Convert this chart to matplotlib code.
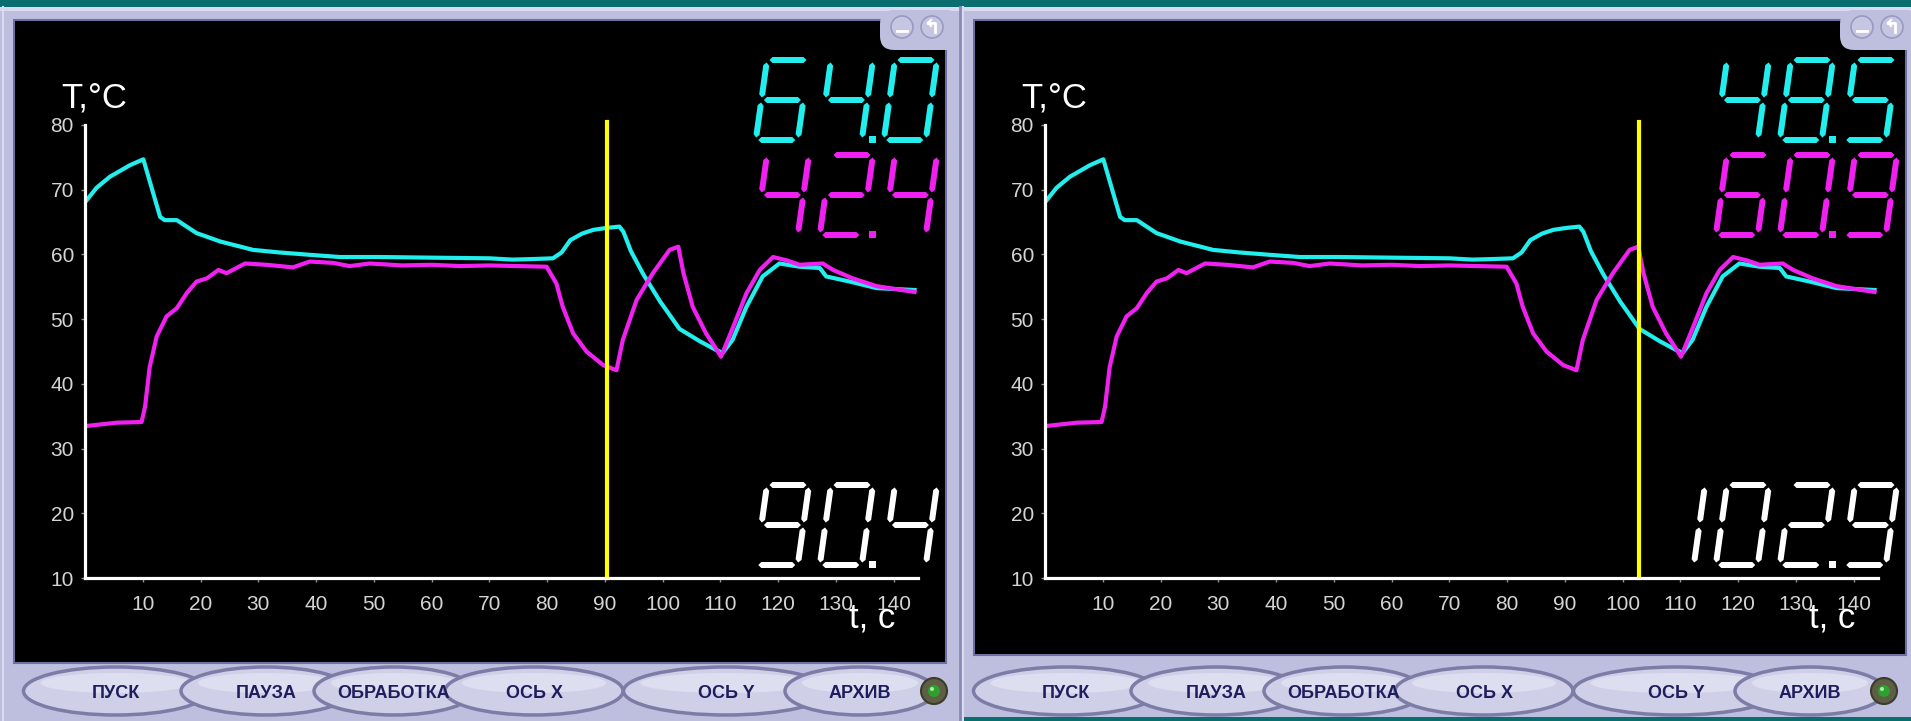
import matplotlib.pyplot as plt
from matplotlib.patches import Rectangle, Ellipse, Circle, FancyBboxPatch, Polygon
import numpy as np

# кривые температур (одни и те же в обоих окнах), t в секундах, T в градусах
cyan_t = [0.3, 2.0, 4.3, 7.8, 10.1, 13.0, 13.8, 15.9, 19.3, 23.4, 29.1, 33.7, 39.5, 44.1,
          51.0, 60.0, 70.0, 74.0, 78.0, 81.0, 82.5, 84.0, 86.0, 88.0, 90.3, 92.5, 93.2,
          94.5, 96.6, 99.5, 102.9, 106.4, 109.3, 110.4, 112.1, 114.5, 117.3, 120.2,
          123.7, 127.2, 128.3, 132.4, 137.0, 143.6]
cyan_T = [68.4, 70.3, 72.0, 73.8, 74.7, 65.8, 65.3, 65.3, 63.3, 62.0, 60.7, 60.3, 59.9, 59.6,
          59.6, 59.5, 59.4, 59.2, 59.3, 59.4, 60.3, 62.2, 63.2, 63.8, 64.1, 64.3, 63.5,
          60.5, 57.0, 52.8, 48.5, 46.6, 45.2, 44.8, 46.8, 51.9, 56.6, 58.6,
          58.1, 57.9, 56.6, 55.8, 54.8, 54.5]

magenta_t = [0.3, 5.5, 9.8, 10.4, 11.2, 12.4, 14.1, 15.9, 17.6, 19.3, 21.1, 23.1, 24.5, 27.7,
             31.4, 36.0, 38.9, 42.9, 45.8, 49.3, 55.0, 60.0, 65.0, 70.0, 75.0, 79.9, 81.6,
             82.7, 84.5, 86.8, 89.7, 92.0, 93.1, 95.5, 98.3, 101.2, 102.7, 103.6, 105.2,
             107.5, 109.9, 110.1, 112.2, 114.5, 116.8, 119.1, 121.4, 123.7, 127.7, 129.5,
             132.9, 137.0, 143.6]
magenta_T = [33.5, 34.0, 34.1, 36.5, 42.6, 47.3, 50.4, 51.7, 54.0, 55.8, 56.3, 57.6, 57.1, 58.6,
             58.4, 58.0, 58.9, 58.7, 58.2, 58.6, 58.3, 58.4, 58.2, 58.3, 58.2, 58.1, 55.5,
             51.9, 47.8, 45.0, 42.9, 42.1, 46.8, 53.0, 57.1, 60.7, 61.2, 57.1, 51.9,
             47.8, 44.5, 44.2, 48.8, 54.0, 57.6, 59.6, 59.1, 58.4, 58.6, 57.6,
             56.3, 55.1, 54.2]

x_ticks = [10, 20, 30, 40, 50, 60, 70, 80, 90, 100, 110, 120, 130, 140]
y_ticks = [10, 20, 30, 40, 50, 60, 70, 80]

# положение курсора и показания индикаторов в каждом окне
cursor_t = [90.4, 102.9]
cyan_read = ["64.0", "48.5"]
magenta_read = ["42.4", "60.9"]
time_read = ["90.4", "102.9"]

buttons = ["ПУСК", "ПАУЗА", "ОБРАБОТКА", "ОСЬ X", "ОСЬ Y", "АРХИВ"]

# цвета
LAV = "#BEBEDE"
LAV_DARK = "#8A8AB4"
LAV_LIGHT = "#DADAF0"
TEAL = "#0A6E6E"
CYAN = "#22EEEE"
MAGENTA = "#F020F0"
YELLOW = "#FFFF00"

W_FIG, H_FIG = 1911, 721

fig = plt.figure(figsize=(W_FIG / 100, H_FIG / 100), dpi=100, facecolor=LAV)

ui = fig.add_axes([0, 0, 1, 1], zorder=0)
ui.set_xlim(0, W_FIG)
ui.set_ylim(H_FIG, 0)
ui.axis("off")

top = fig.add_axes([0, 0, 1, 1], zorder=5)
top.set_xlim(0, W_FIG)
top.set_ylim(H_FIG, 0)
top.axis("off")
top.patch.set_alpha(0)

# --- семисегментный индикатор ---
SEG = {"a": ((0, 1), (1, 1)), "b": ((1, 1), (1, .5)), "c": ((1, .5), (1, 0)),
       "d": ((0, 0), (1, 0)), "e": ((0, .5), (0, 0)), "f": ((0, 1), (0, .5)),
       "g": ((0, .5), (1, .5))}
DIGITS = {"0": "abcdef", "1": "bc", "2": "abged", "3": "abgcd", "4": "fgbc",
          "5": "afgcd", "6": "afgedc", "7": "abc", "8": "abcdefg", "9": "abcdfg"}


def seg_poly(p0, p1, th, gap):
    p0, p1 = np.array(p0, float), np.array(p1, float)
    d = (p1 - p0) / np.linalg.norm(p1 - p0)
    n = np.array([-d[1], d[0]])
    a = p0 + d * gap
    b = p1 - d * gap
    h = th / 2
    return [a, a + d * h + n * h, b - d * h + n * h, b, b - d * h - n * h, a + d * h - n * h]


def seven_seg(ax, text, x_right, y_bottom, color, W=42, H=80, pitch=64, slant=0.14, th=6):
    digits = text.replace(".", "")
    n = len(digits)
    dot_after = text.index(".") - 1 if "." in text else None
    yb = y_bottom - th / 2
    for k, ch in enumerate(digits):
        x0 = x_right - (n - 1 - k) * pitch - W - slant * H - th / 2
        for s in DIGITS[ch]:
            (u0, v0), (u1, v1) = SEG[s]
            p0 = (x0 + u0 * W + slant * v0 * H, yb - v0 * H)
            p1 = (x0 + u1 * W + slant * v1 * H, yb - v1 * H)
            ax.add_patch(Polygon(seg_poly(p0, p1, th, 2.5), closed=True, color=color, lw=0))
        if k == dot_after:
            dx = x0 + W + (pitch - W) / 2
            ax.add_patch(Rectangle((dx - 3.5, y_bottom - 7), 7, 7, color=color, lw=0))


# --- рамки окон ---
ui.add_patch(Rectangle((0, 0), W_FIG, 7, color=TEAL, lw=0))
ui.add_patch(Rectangle((962, 717), W_FIG - 962, 4, color=TEAL, lw=0))
ui.add_patch(Rectangle((0, 7), W_FIG, 4, color=LAV_LIGHT, lw=0))
ui.plot([960, 960], [7, 721], color=LAV_DARK, lw=2)
ui.plot([963, 963], [7, 721], color=LAV_LIGHT, lw=1.5)
ui.plot([3, 3], [7, 721], color=LAV_LIGHT, lw=1.5)

panels = [(14, 20, 932, 643), (974, 20, 932, 635)]
for (bx, by, bw, bh) in panels:
    ui.add_patch(Rectangle((bx, by), bw, bh, facecolor="black", edgecolor="#7070A0", lw=1.5))
    # выступ с кнопками окна
    ui.add_patch(FancyBboxPatch((bx + 866, by - 10), 80, 40,
                                boxstyle="round,pad=0,rounding_size=14",
                                facecolor=LAV, edgecolor="none"))
    for cx, kind in [(bx + 888, "min"), (bx + 918, "back")]:
        ui.add_patch(Circle((cx, 27), 11, facecolor="#C6C6E2", edgecolor="#9A9AC0", lw=1.2))
        if kind == "min":
            ui.plot([cx - 5, cx + 5], [31, 31], color="white", lw=2)
        else:
            ui.plot([cx - 4, cx + 3, cx + 3], [23, 23, 32], color="white", lw=2)
            ui.plot([cx - 4, cx - 1], [23, 20], color="white", lw=1.5)
            ui.plot([cx - 4, cx - 1], [23, 26], color="white", lw=1.5)

# --- кнопки ---
btn_x = [116, 266, 394, 534, 726, 860]
btn_w = [185, 170, 160, 178, 205, 150]
for shift in [0, 950]:
    for name, cx, bw in zip(buttons, btn_x, btn_w):
        cx = cx + shift
        ui.add_patch(Ellipse((cx, 691), bw, 48, facecolor="#CFCFE8", edgecolor="#7C7CA6", lw=2.5))
        ui.add_patch(Ellipse((cx, 683), bw - 34, 20, facecolor="#E2E2F4", edgecolor="none", alpha=0.8))
        ui.text(cx, 693, name, ha="center", va="center", fontsize=13, fontweight="bold",
                color="#1E1E5E", family="Liberation Sans")
    ui.add_patch(Circle((934 + shift, 691), 13, facecolor="#5E5E44", edgecolor="#3C3C2C", lw=1.5))
    ui.add_patch(Circle((934 + shift, 691), 6, facecolor="#2FA02F", edgecolor="none"))
    ui.add_patch(Circle((932 + shift, 689), 2, facecolor="#A0F0A0", edgecolor="none"))

# --- графики ---
X0, X1, Y0, Y1 = 85, 918, 125, 578
scale_t = 5.777
for i in range(2):
    sx = i * 960
    ax = fig.add_axes([(X0 + sx) / W_FIG, 1 - Y1 / H_FIG, (X1 - X0) / W_FIG, (Y1 - Y0) / H_FIG],
                      zorder=2)
    ax.patch.set_alpha(0)
    ax.set_xlim(0, (X1 - X0) / scale_t)
    ax.set_ylim(10, 80)
    ax.plot(cyan_t, cyan_T, color=CYAN, lw=3)
    ax.plot(magenta_t, magenta_T, color=MAGENTA, lw=3)
    ax.plot([cursor_t[i], cursor_t[i]], [10, 80.4], color=YELLOW, lw=3, clip_on=False)

    for side in ["top", "right"]:
        ax.spines[side].set_visible(False)
    for side in ["left", "bottom"]:
        ax.spines[side].set_color("white")
        ax.spines[side].set_linewidth(2.3)
    ax.set_xticks(x_ticks)
    ax.set_yticks(y_ticks)
    ax.tick_params(axis="both", colors="#909090", labelcolor="#D4D4D4", length=3, width=1,
                   labelsize=15)
    ax.tick_params(axis="x", pad=9)
    ax.tick_params(axis="y", pad=5)
    for lab in ax.get_xticklabels() + ax.get_yticklabels():
        lab.set_family("Liberation Sans")

    ui.text(61 + sx, 108, "T,°C", color="white", fontsize=25, family="Liberation Sans",
            va="baseline", ha="left")
    top.text(849 + sx, 628, "t, c", color="white", fontsize=25, family="Liberation Sans",
             va="baseline", ha="left")

    seven_seg(top, cyan_read[i], 940 + sx, 143, CYAN)
    seven_seg(top, magenta_read[i], 940 + sx, 238, MAGENTA)
    seven_seg(top, time_read[i], 940 + sx, 568, "white")

fig.savefig("out.png", dpi=100, facecolor=LAV)
